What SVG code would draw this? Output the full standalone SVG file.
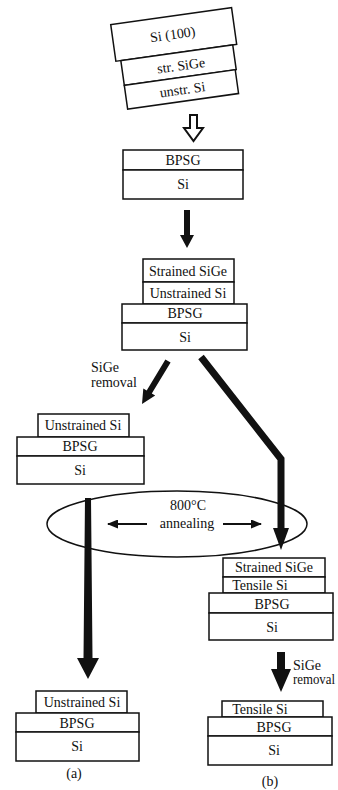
<svg xmlns="http://www.w3.org/2000/svg" width="338" height="790" viewBox="0 0 338 790">
<style>
.b{fill:#fff;stroke:#111;stroke-width:1.5}
.t{font-family:"Liberation Serif","Times New Roman",serif;font-size:14px;fill:#111;text-anchor:middle}
.l{font-family:"Liberation Serif","Times New Roman",serif;font-size:14px;fill:#111}
.a{fill:#111;stroke:none}
.e{fill:none;stroke:#111;stroke-width:1.5}
.s{stroke:#111;stroke-width:2;fill:none}
</style>
<defs>
<marker id="sm" markerUnits="userSpaceOnUse" markerWidth="11" markerHeight="9" refX="10" refY="4.5" orient="auto">
<path d="M0,0 L11,4.5 L0,9 Z" fill="#111"/>
</marker>
</defs>
<rect width="338" height="790" fill="#fff"/>

<g id="stack-top" transform="rotate(-8 175 58)">
<rect class="b" x="116" y="16" width="122" height="37"/>
<rect class="b" x="121" y="53" width="113" height="25"/>
<rect class="b" x="121" y="78" width="112" height="24"/>
<text class="t" x="176" y="39">Si (100)</text>
<text class="t" x="180" y="71">str. SiGe</text>
<text class="t" x="178" y="95">unstr. Si</text>
</g>

<g id="stack-1">
<rect class="b" x="123" y="150" width="120" height="20"/>
<rect class="b" x="123" y="170" width="120" height="29"/>
<text class="t" x="183" y="165">BPSG</text>
<text class="t" x="183" y="189">Si</text>
</g>

<g id="stack-2">
<rect class="b" x="143" y="259" width="91" height="23"/>
<rect class="b" x="143" y="282" width="91" height="22"/>
<rect class="b" x="122" y="304" width="125" height="19"/>
<rect class="b" x="122" y="323" width="125" height="27"/>
<text class="t" x="188" y="276">Strained SiGe</text>
<text class="t" x="188" y="298">Unstrained Si</text>
<text class="t" x="185" y="318">BPSG</text>
<text class="t" x="185" y="342">Si</text>
</g>

<g id="stack-a1">
<rect class="b" x="38" y="414" width="91" height="23"/>
<rect class="b" x="17" y="437" width="127" height="19"/>
<rect class="b" x="17" y="456" width="127" height="28"/>
<text class="t" x="83" y="430">Unstrained Si</text>
<text class="t" x="80" y="451">BPSG</text>
<text class="t" x="80" y="475">Si</text>
</g>

<g id="anneal">
<ellipse class="e" cx="177" cy="524" rx="130" ry="33"/>
<text class="t" x="188" y="510">800°C</text>
<text class="t" x="187" y="528">annealing</text>
</g>

<g id="stack-b1">
<rect class="b" x="223" y="558" width="102" height="19"/>
<rect class="b" x="223" y="577" width="102" height="16"/>
<rect class="b" x="209" y="593" width="124" height="20"/>
<rect class="b" x="209" y="613" width="124" height="27"/>
<text class="t" x="274" y="572">Strained SiGe</text>
<text class="t" x="260" y="590">Tensile Si</text>
<text class="t" x="272" y="609">BPSG</text>
<text class="t" x="272" y="632">Si</text>
</g>

<g id="stack-a2">
<rect class="b" x="36" y="691" width="91" height="22"/>
<rect class="b" x="16" y="713" width="123" height="19"/>
<rect class="b" x="16" y="732" width="123" height="29"/>
<text class="t" x="82" y="707">Unstrained Si</text>
<text class="t" x="77" y="728">BPSG</text>
<text class="t" x="77" y="751">Si</text>
</g>

<g id="stack-b2">
<rect class="b" x="222" y="701" width="101" height="16"/>
<rect class="b" x="208" y="717" width="124" height="19"/>
<rect class="b" x="208" y="736" width="124" height="29"/>
<text class="t" x="260" y="714">Tensile Si</text>
<text class="t" x="274" y="732">BPSG</text>
<text class="t" x="274" y="755">Si</text>
</g>

<g id="labels">
<text class="l" x="91" y="372">SiGe</text>
<text class="l" x="91" y="387">removal</text>
<text class="l" x="293" y="670" font-size="13">SiGe</text>
<text class="l" x="293" y="684" font-size="13" textLength="42" lengthAdjust="spacingAndGlyphs">removal</text>
<text class="t" x="74" y="778">(a)</text>
<text class="t" x="270" y="786">(b)</text>
</g>

<g id="connectors">
<path d="M190,115 H197 V128 H203 L193.5,141 L184,128 H190 Z" fill="#fff" stroke="#111" stroke-width="2"/>
<path class="a" d="M184,210 H190 V235 H194 L187,248 L180,235 H184 Z"/>
<path class="a" d="M165.4,359.4 L170.6,362.6 L151.8,393.6 L155.2,395.6 L142,404 L143.3,388.4 L146.7,390.4 Z"/>
<polyline points="201,357 281,459 281,530" fill="none" stroke="#111" stroke-width="7" stroke-linejoin="miter"/>
<path class="a" d="M273,528 H289 L281,550 Z"/>
<path class="a" d="M85,498 H91 L92.5,658 H99 L88,679 L77,658 H83.5 Z"/>
<path class="a" d="M277,652 H285 V669 H291 L281,692 L271,669 H277 Z"/>
<line class="s" x1="147" y1="524" x2="108" y2="524" marker-end="url(#sm)"/>
<line class="s" x1="223" y1="524" x2="261" y2="524" marker-end="url(#sm)"/>
</g>
</svg>
